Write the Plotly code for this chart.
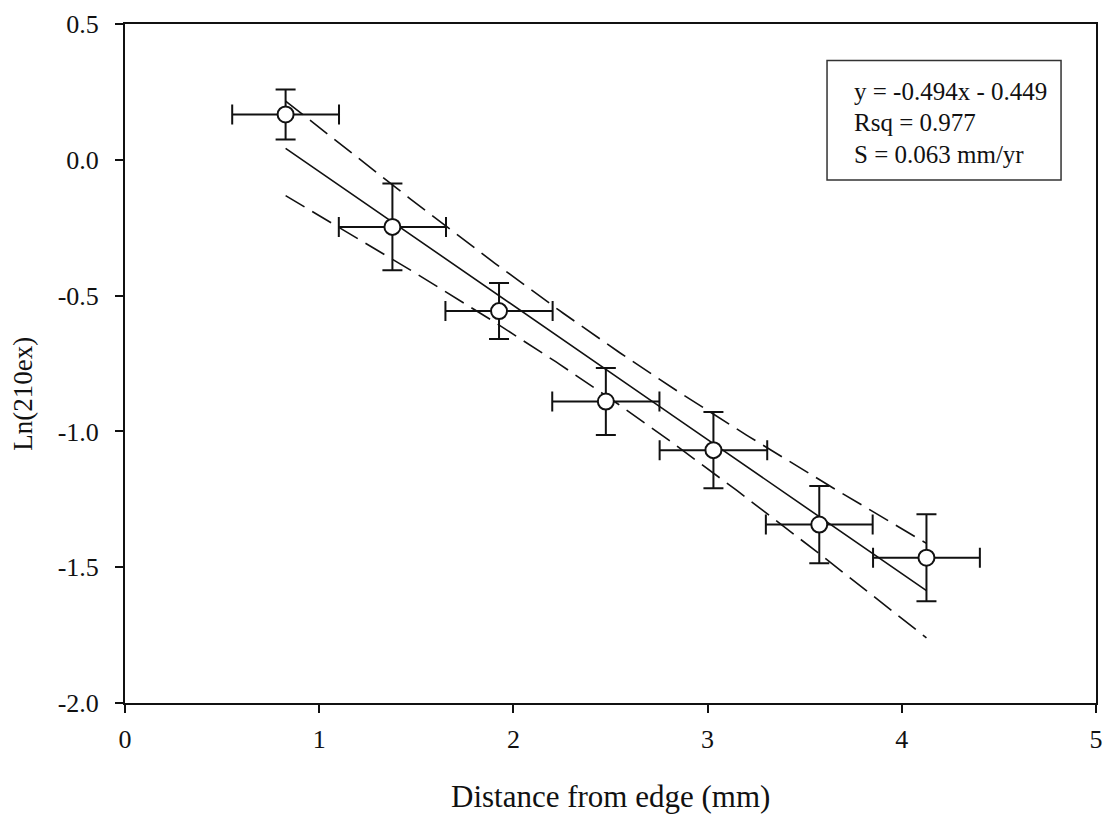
import numpy as np
import plotly.graph_objects as go

# ---- data ----
distance = [0.827, 1.377, 1.926, 2.476, 3.030, 3.575, 4.127]
ln210ex = [0.167, -0.247, -0.557, -0.890, -1.069, -1.343, -1.465]
x_err = [0.275, 0.276, 0.276, 0.276, 0.277, 0.275, 0.275]
y_err = [0.092, 0.160, 0.103, 0.123, 0.140, 0.142, 0.160]

x_ticks = [0, 1, 2, 3, 4, 5]
x_ticktext = ["0", "1", "2", "3", "4", "5"]
y_ticks = [0.5, 0.0, -0.5, -1.0, -1.5, -2.0]
y_ticktext = ["0.5", "0.0", "-0.5", "-1.0", "-1.5", "-2.0"]

stats_lines = ["y = -0.494x - 0.449", "Rsq = 0.977", "S = 0.063 mm/yr"]
t_95 = 2.571  # Student t, 5 dof

# ---- regression & 95% confidence band ----
xa = np.array(distance)
ya = np.array(ln210ex)
n = len(xa)
slope, intercept = np.polyfit(xa, ya, 1)
resid = ya - (slope * xa + intercept)
s = np.sqrt(np.sum(resid ** 2) / (n - 2))
sxx = np.sum((xa - xa.mean()) ** 2)
xf = np.linspace(xa.min(), xa.max(), 200)
yf = slope * xf + intercept
half = t_95 * s * np.sqrt(1.0 / n + (xf - xa.mean()) ** 2 / sxx)

FONT = "Liberation Serif, Times New Roman, serif"
BLACK = "#111111"

fig = go.Figure()
fig.add_trace(go.Scatter(x=xf, y=yf + half, mode="lines",
                         line=dict(color=BLACK, width=1.6, dash="22px,9px"),
                         showlegend=False, hoverinfo="skip"))
fig.add_trace(go.Scatter(x=xf, y=yf - half, mode="lines",
                         line=dict(color=BLACK, width=1.6, dash="22px,9px"),
                         showlegend=False, hoverinfo="skip"))
fig.add_trace(go.Scatter(x=xf, y=yf, mode="lines",
                         line=dict(color=BLACK, width=1.6),
                         showlegend=False, hoverinfo="skip"))
fig.add_trace(go.Scatter(
    x=distance, y=ln210ex, mode="markers",
    marker=dict(symbol="circle", size=16, color="white",
                line=dict(color=BLACK, width=2)),
    error_x=dict(type="data", array=x_err, visible=True, color=BLACK,
                 thickness=2, width=10),
    error_y=dict(type="data", array=y_err, visible=True, color=BLACK,
                 thickness=2, width=10),
    showlegend=False))

# stats box
fig.add_shape(type="rect", xref="x", yref="y", x0=3.615, x1=4.82,
              y0=-0.074, y1=0.366, line=dict(color="#333333", width=1.5),
              fillcolor="rgba(0,0,0,0)")
for i, (txt, yy) in enumerate(zip(stats_lines, [0.2515, 0.136, 0.021])):
    fig.add_annotation(x=3.742, y=yy, xref="x", yref="y", text=txt,
                       showarrow=False, xanchor="left", yanchor="middle",
                       font=dict(family=FONT, size=25, color=BLACK))

# axis titles
fig.add_annotation(x=0.5, y=-0.137, xref="paper", yref="paper",
                   text="Distance from edge (mm)", showarrow=False,
                   xanchor="center", yanchor="middle",
                   font=dict(family=FONT, size=31, color=BLACK))
fig.add_annotation(x=-0.1053, y=0.455, xref="paper", yref="paper",
                   text="Ln(210ex)", showarrow=False, textangle=-90,
                   xanchor="center", yanchor="middle",
                   font=dict(family=FONT, size=27, color=BLACK))

axis_common = dict(showline=True, linecolor=BLACK, linewidth=2, mirror=True,
                   ticks="outside", ticklen=8, tickwidth=2, tickcolor=BLACK,
                   showgrid=False, zeroline=False,
                   tickfont=dict(family=FONT, size=26, color=BLACK))
fig.update_xaxes(range=[0, 5], tickvals=x_ticks, ticktext=x_ticktext,
                 ticklabelstandoff=4, **axis_common)
fig.update_yaxes(range=[-2.0, 0.5], tickvals=y_ticks, ticktext=y_ticktext,
                 ticklabelstandoff=11, **axis_common)

fig.update_layout(width=1113, height=818,
                  margin=dict(l=125, r=10, t=19, b=115),
                  paper_bgcolor="white", plot_bgcolor="white",
                  font=dict(family=FONT, color=BLACK))

fig.write_html("out.html")
